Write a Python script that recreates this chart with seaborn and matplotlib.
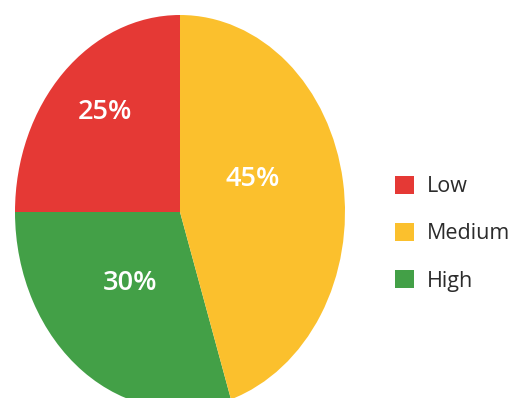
import matplotlib
matplotlib.use("Agg")
import matplotlib.pyplot as plt
import matplotlib.patches as mpatches
import seaborn as sns

# Datos del gráfico
categorias = ['Low', 'Medium', 'High']
valores = [25, 45, 30]
colores = ['#E53935', '#FBC02D', '#43A047']

# Orden de dibujo de la tarta (antihorario desde las 12): Low, High, Medium
orden_tarta = ['Low', 'High', 'Medium']

sns.set_theme(style='white')
plt.rcParams['font.family'] = ['Open Sans', 'DejaVu Sans']

paleta = dict(zip(categorias, sns.color_palette(colores)))
vals_tarta = [valores[categorias.index(c)] for c in orden_tarta]
cols_tarta = [paleta[c] for c in orden_tarta]

fig = plt.figure(figsize=(5.21, 3.98), dpi=100)
ax = fig.add_axes([15 / 521, -11 / 398, 330 / 521, 394 / 398])

wedges, texts, autotexts = ax.pie(vals_tarta, colors=cols_tarta, startangle=90,
                                  counterclock=True, autopct='%d%%', radius=1,
                                  wedgeprops={'linewidth': 0, 'edgecolor': 'none'},
                                  textprops={'color': 'white', 'fontsize': 19.5,
                                             'fontweight': 'semibold'})
ax.set_aspect('auto')
ax.set_xlim(-1, 1)
ax.set_ylim(-1, 1)

# Colocación de las etiquetas como en la imagen
pos_etiquetas = {'Low': (-0.455, 0.51), 'High': (-0.30, -0.36), 'Medium': (0.44, 0.17)}
for c, t in zip(orden_tarta, autotexts):
    t.set_position(pos_etiquetas[c])

handles = [mpatches.Patch(facecolor=paleta[c], edgecolor='none', label=c) for c in categorias]
leg = fig.legend(handles=handles, loc='center left', bbox_to_anchor=(0.758, 0.413),
                 frameon=False, fontsize=15.5, handlelength=0.9, handleheight=0.9,
                 handletextpad=0.6, labelspacing=1.2, borderpad=0, borderaxespad=0,
                 labelcolor='#2b2b2b')
for t in leg.get_texts():
    t.set_fontweight('medium')

plt.savefig('out.png', dpi=100)
plt.close()
